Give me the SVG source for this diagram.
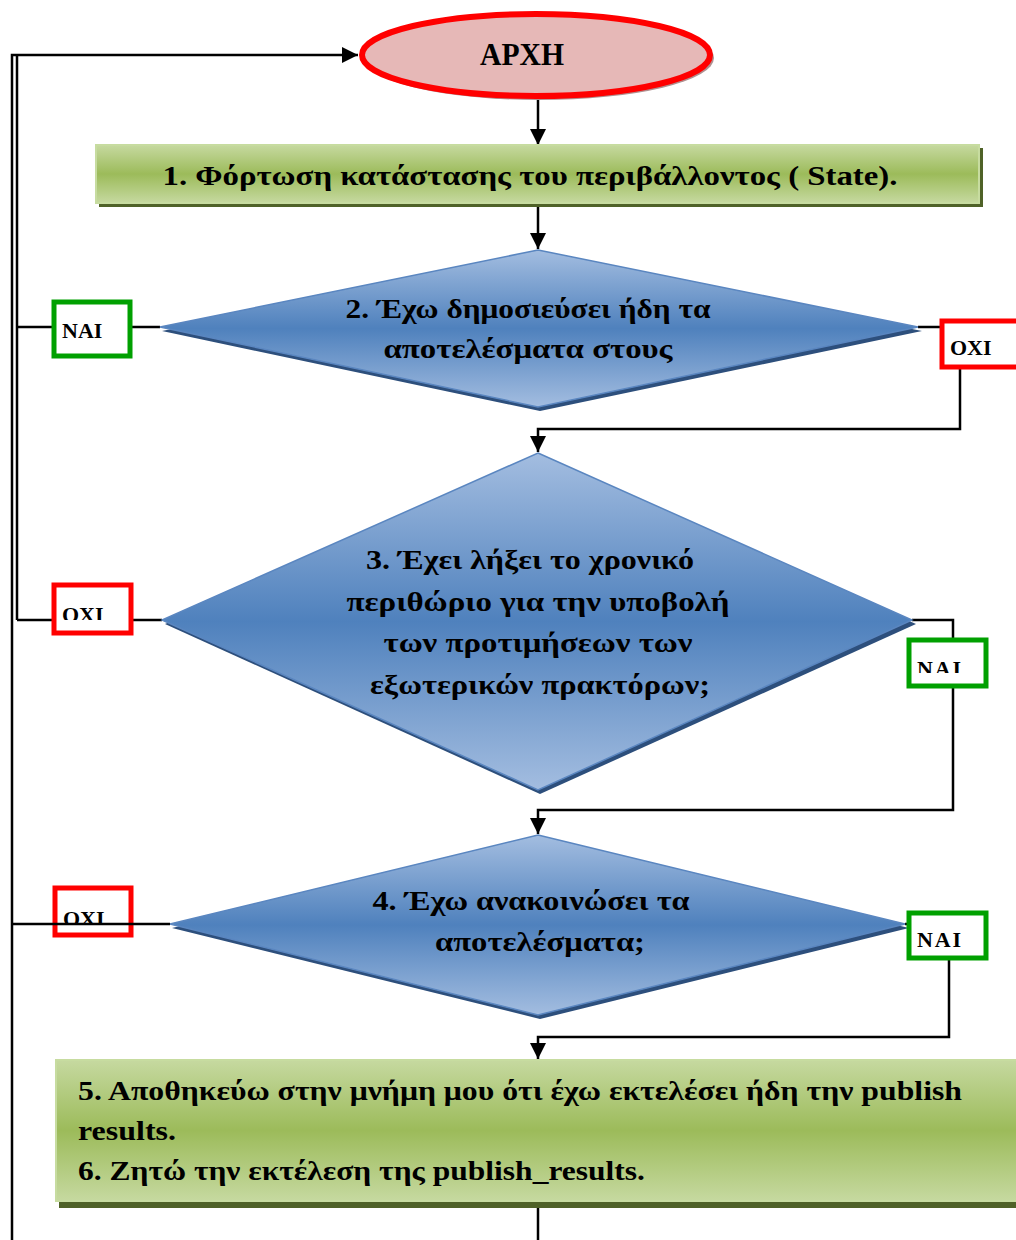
<svg xmlns="http://www.w3.org/2000/svg" width="1016" height="1240" viewBox="0 0 1016 1240">
  <style>
    .t { font-family: "Liberation Serif", "DejaVu Serif", serif; font-weight: bold; fill: #000; }
    .big { font-size: 27px; }
    .lbl { font-family: "Liberation Serif", serif; font-weight: bold; font-size: 22px; fill: #000; }
    .line { fill: none; stroke: #000; stroke-width: 2.5; }
    .yes { fill: #fff; stroke: #00a000; stroke-width: 5; }
    .no { fill: #fff; stroke: #ff0000; stroke-width: 5; }
    .dia { fill: url(#blue); stroke: #5a86c0; stroke-width: 1.5; }
    .diaShadow { fill: #2d4f7c; }
    .proc { fill: url(#green); stroke: #c7dca0; stroke-width: 2; }
    .procShadow { fill: #4f6228; }
  </style>
  <defs>
    <linearGradient id="green" x1="0" y1="0" x2="0" y2="1">
      <stop offset="0" stop-color="#c6d9a0"/>
      <stop offset="0.5" stop-color="#9cbb5a"/>
      <stop offset="1" stop-color="#c6d9a0"/>
    </linearGradient>
    <linearGradient id="blue" x1="0" y1="0" x2="0" y2="1">
      <stop offset="0" stop-color="#a3bde0"/>
      <stop offset="0.5" stop-color="#4f81bd"/>
      <stop offset="1" stop-color="#a3bde0"/>
    </linearGradient>
    <marker id="arrBig" viewBox="0 0 10 10" refX="10" refY="5" markerWidth="16" markerHeight="16" markerUnits="userSpaceOnUse" orient="auto">
      <path d="M0,0 L10,5 L0,10 z" fill="#000"/>
    </marker>
    <clipPath id="cOxi3"><rect x="55" y="586" width="75" height="34"/></clipPath>
    <clipPath id="cNai3"><rect x="910" y="641" width="75" height="32"/></clipPath>
    <clipPath id="cOxi4"><rect x="56" y="889" width="74" height="36"/></clipPath>
    <clipPath id="cNai4"><rect x="910" y="914" width="75" height="34"/></clipPath>
  </defs>

  <!-- connectors -->
  <g id="connectors">
    <!-- return rails on the left -->
    <path class="line" d="M12,1240 V55 H358" marker-end="url(#arrBig)"/>
    <path class="line" d="M17,55 V620"/>
    <path class="line" d="M17,327 H160"/>
    <path class="line" d="M17,620 H162"/>
    <!-- start to step 1 -->
    <path class="line" d="M538,100 V145" marker-end="url(#arrBig)"/>
    <!-- step 1 to decision 2 -->
    <path class="line" d="M538,205 V249" marker-end="url(#arrBig)"/>
    <!-- decision 2: no -->
    <path class="line" d="M918,327 H960 V429 H538 V452" marker-end="url(#arrBig)"/>
    <!-- decision 3: yes -->
    <path class="line" d="M912,620 H953 V810 H538 V834" marker-end="url(#arrBig)"/>
    <!-- decision 4: yes -->
    <path class="line" d="M905,924 H949 V1037 H538 V1059" marker-end="url(#arrBig)"/>
    <!-- step 5/6 onward -->
    <path class="line" d="M538,1208 V1240"/>
  </g>

  <!-- start -->
  <g id="start">
    <ellipse cx="539" cy="58" rx="175" ry="42" fill="#b09090"/>
    <ellipse cx="536" cy="55" rx="174" ry="41" fill="#e6b8b7" stroke="#ff0000" stroke-width="6"/>
    <text class="t" x="522" y="65" font-size="31" text-anchor="middle" textLength="84" lengthAdjust="spacingAndGlyphs">ΑΡΧΗ</text>
  </g>

  <!-- step 1 -->
  <g id="step1">
    <rect class="procShadow" x="99" y="148" width="884" height="59"/>
    <rect class="proc" x="96" y="145" width="883" height="58"/>
    <text class="t big" x="530" y="185" text-anchor="middle" textLength="735" lengthAdjust="spacingAndGlyphs">1. Φόρτωση  κατάστασης του  περιβάλλοντος ( State).</text>
  </g>

  <!-- decision 2 -->
  <g id="decision2">
    <polygon class="diaShadow" points="540,254 922,331 540,411 162,331"/>
    <polygon class="dia" points="538,250 918,327 538,407 160,327"/>
    <text class="t big" x="528" y="318" text-anchor="middle" textLength="365" lengthAdjust="spacingAndGlyphs">2. Έχω δημοσιεύσει ήδη τα</text>
    <text class="t big" x="528" y="358" text-anchor="middle" textLength="289" lengthAdjust="spacingAndGlyphs">αποτελέσματα στους</text>
  </g>
  <g id="yes2">
    <rect class="yes" x="54" y="302" width="76" height="54"/>
    <text class="lbl" x="62" y="338">ΝΑΙ</text>
  </g>
  <g id="no2">
    <rect class="no" x="942" y="321" width="80" height="46"/>
    <text class="lbl" x="950" y="355">ΟΧΙ</text>
  </g>

  <!-- decision 3 -->
  <g id="decision3">
    <polygon class="diaShadow" points="540,457 916,624 540,794 165,624"/>
    <polygon class="dia" points="538,453 912,620 538,790 162,620"/>
    <text class="t big" x="530" y="569" text-anchor="middle" textLength="328" lengthAdjust="spacingAndGlyphs">3. Έχει λήξει το  χρονικό</text>
    <text class="t big" x="538" y="611" text-anchor="middle" textLength="383" lengthAdjust="spacingAndGlyphs">περιθώριο για την  υποβολή</text>
    <text class="t big" x="538" y="652" text-anchor="middle" textLength="309" lengthAdjust="spacingAndGlyphs">των προτιμήσεων των</text>
    <text class="t big" x="540" y="694" text-anchor="middle" textLength="340" lengthAdjust="spacingAndGlyphs">εξωτερικών πρακτόρων;</text>
  </g>
  <g id="no3">
    <rect class="no" x="54" y="585" width="77" height="48"/>
    <text class="lbl" x="62" y="622" clip-path="url(#cOxi3)">ΟΧΙ</text>
  </g>
  <g id="yes3">
    <rect class="yes" x="909" y="640" width="77" height="46"/>
    <text class="lbl" x="917" y="676" clip-path="url(#cNai3)" textLength="44" lengthAdjust="spacing">ΝΑΙ</text>
  </g>

  <!-- decision 4 -->
  <g id="decision4">
    <polygon class="diaShadow" points="540,839 909,928 540,1019 172,928"/>
    <polygon class="dia" points="538,835 905,924 538,1015 170,924"/>
    <text class="t big" x="531" y="910" text-anchor="middle" textLength="317" lengthAdjust="spacingAndGlyphs">4. Έχω ανακοινώσει τα</text>
    <text class="t big" x="540" y="951" text-anchor="middle" textLength="210" lengthAdjust="spacingAndGlyphs">αποτελέσματα;</text>
  </g>
  <g id="no4">
    <rect class="no" x="55" y="888" width="76" height="47"/>
    <text class="lbl" x="63" y="926" clip-path="url(#cOxi4)">ΟΧΙ</text>
    <path class="line" d="M12,924 H170"/>
  </g>
  <g id="yes4">
    <rect class="yes" x="909" y="913" width="77" height="45"/>
    <text class="lbl" x="917" y="947" textLength="44" lengthAdjust="spacing">ΝΑΙ</text>
  </g>

  <!-- steps 5 and 6 -->
  <g id="step5">
    <rect class="procShadow" x="59" y="1064" width="970" height="144"/>
    <rect class="proc" x="56" y="1060" width="970" height="141"/>
    <text class="t big" x="78" y="1100" textLength="884" lengthAdjust="spacingAndGlyphs">5. Αποθηκεύω στην μνήμη μου ότι έχω εκτελέσει ήδη την publish</text>
    <text class="t big" x="78" y="1140" textLength="98" lengthAdjust="spacingAndGlyphs">results.</text>
    <text class="t big" x="78" y="1180" textLength="567" lengthAdjust="spacingAndGlyphs">6. Ζητώ την εκτέλεση της publish_results.</text>
  </g>
</svg>
